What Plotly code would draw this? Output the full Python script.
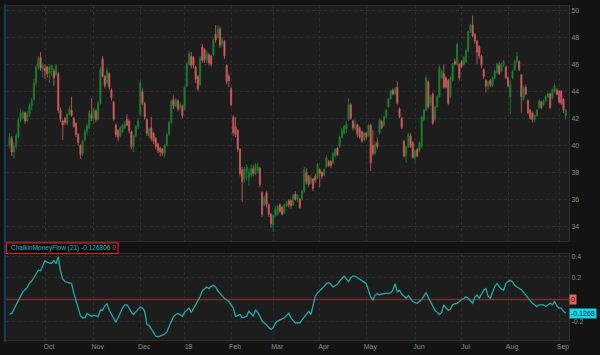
import pandas as pd
import plotly.graph_objects as go

# ---------------- data ----------------
holidays = ["2017-11-23", "2017-12-25", "2018-01-01", "2018-01-15", "2018-02-19",
            "2018-03-30", "2018-05-28", "2018-07-04", "2018-09-03"]
dates = [d for d in pd.bdate_range("2017-09-08", "2018-09-07")
         if d.strftime("%Y-%m-%d") not in holidays]

open_ = [
    40.0, 40.5, 39.5, 39.9, 40.6, 41.9, 42.0, 42.4, 41.8, 42.3, 42.9, 43.4, 44.6, 45.8, 46.5, 45.6, 45.7, 45.8, 45.3, 45.6,
    45.5, 45.2, 45.3, 42.6, 41.8, 42.0, 41.6, 42.3, 42.6, 42.0, 41.6, 40.8, 40.0, 39.4, 40.4, 41.0, 41.3, 42.3, 42.0, 42.5,
    41.9,
    43.1, 46.4, 45.1, 44.6, 45.3, 44.1, 43.2, 41.5, 41.1, 40.7, 41.0, 41.3, 41.9, 41.8, 41.0, 39.9, 40.7, 41.4, 42.3, 44.0,
    43.1, 41.9, 40.7, 41.3, 40.9, 40.5, 40.1, 39.8, 39.7, 39.4, 40.0, 40.8, 41.7, 43.4, 42.9, 43.3, 42.8, 42.9, 42.7, 44.4,
    46.0, 46.6, 46.5,
    45.8, 45.1, 44.5, 47.3, 47.1, 46.3, 46.7, 46.6, 46.7, 48.2, 48.0, 48.6, 47.5, 47.7, 45.9, 45.1, 44.2, 42.1, 41.4, 41.1,
    39.7, 38.2, 37.5, 38.0, 37.6, 37.8, 38.3, 37.9, 38.1, 38.3, 36.5, 35.6, 36.5, 35.6, 34.9, 34.1, 34.8, 34.9, 35.6, 35.4,
    35.0, 35.5,
    35.9, 35.9, 35.6, 36.4, 36.0, 36.0, 36.0, 36.6, 38.0, 37.7, 37.2, 37.5, 37.7, 37.6, 38.2, 38.0, 37.8, 38.4, 38.8, 38.8,
    38.7, 39.2, 39.8, 39.9, 40.6, 40.9, 41.2, 41.9, 43.0, 41.8, 41.2, 41.5, 41.3, 41.0, 40.4, 40.9, 40.7, 41.5, 40.0, 39.4,
    40.2,
    40.9, 41.75, 41.5, 42.1, 42.85, 43.45, 44.06, 43.82, 44.3, 42.7, 42.0, 40.3, 39.2, 39.9, 40.7, 40.2, 39.1, 39.7, 39.6, 39.9,
    41.9, 42.6, 44.7, 43.1, 43.8, 41.9, 42.85, 43.6, 45.0, 45.3, 45.0, 44.8, 43.6, 44.8, 46.2, 46.0, 46.0, 46.2, 46.0, 46.2,
    47.0, 48.4, 48.9,
    48.2, 47.7, 47.3, 46.6, 45.6, 44.8, 44.4, 44.8, 44.4, 45.0, 45.4, 45.9, 45.5, 46.0, 45.8, 45.0, 43.6, 45.0, 45.6, 46.2,
    46.2, 45.2, 43.4, 44.3, 43.3, 42.6, 42.4, 41.9, 42.2, 42.8, 43.2, 43.0, 43.3, 43.6, 43.8, 43.5, 44.0, 44.1, 44.0, 44.0,
    43.4, 42.2,
]
close = [
    40.6, 39.5, 39.9, 40.7, 41.9, 42.4, 42.4, 41.8, 42.3, 42.9, 43.3, 44.6, 45.8, 46.4, 45.7, 45.9, 45.5, 45.3, 45.8, 45.9,
    45.0, 45.9, 42.6, 41.9, 41.5, 41.7, 42.3, 42.7, 42.2, 41.4, 40.8, 40.2, 39.3, 40.3, 41.0, 41.4, 42.4, 42.0, 42.6, 41.9,
    43.1,
    45.6, 45.1, 44.4, 45.5, 44.3, 43.5, 41.9, 40.8, 40.6, 41.3, 41.5, 41.6, 41.5, 41.1, 39.9, 40.7, 41.4, 41.8, 44.6, 43.1,
    42.1, 40.9, 41.2, 40.5, 40.3, 39.9, 39.6, 39.5, 39.4, 40.0, 40.8, 41.7, 43.3, 42.9, 43.3, 42.7, 43.0, 42.2, 44.3, 46.0,
    46.8, 45.9, 45.9,
    44.9, 44.2, 46.4, 46.3, 46.3, 46.8, 46.1, 46.0, 47.8, 47.8, 48.6, 47.4, 47.8, 46.6, 44.7, 44.8, 43.0, 40.9, 40.8, 39.7,
    37.9, 37.3, 38.2, 38.4, 38.0, 38.3, 37.9, 38.6, 38.4, 37.1, 34.9, 36.1, 35.6, 34.9, 34.2, 34.8, 35.3, 35.5, 35.1, 34.9,
    35.6, 35.7,
    35.6, 35.5, 36.3, 36.0, 36.3, 35.4, 36.6, 38.2, 37.3, 37.1, 37.6, 36.8, 37.4, 38.6, 37.9, 37.7, 38.2, 39.1, 38.5, 38.5,
    39.4, 39.7, 39.3, 40.6, 41.1, 41.4, 41.6, 43.0, 42.0, 41.3, 41.6, 40.8, 40.6, 40.3, 40.9, 40.6, 41.5, 38.7, 39.4, 40.1,
    39.9,
    41.9, 41.3, 42.1, 42.6, 43.45, 44.05, 43.82, 44.18, 43.1, 42.1, 41.3, 39.2, 39.9, 40.8, 39.9, 39.1, 39.6, 39.2, 40.2, 42.1,
    42.6, 45.0, 42.85, 43.6, 41.64, 42.85, 43.6, 45.76, 45.5, 44.3, 44.3, 43.1, 45.0, 46.0, 46.0, 47.45, 45.0, 45.8, 46.5, 47.0,
    48.4, 48.9, 48.1,
    47.7, 46.9, 46.6, 45.9, 45.1, 44.4, 44.7, 44.5, 45.0, 45.5, 46.0, 45.3, 46.0, 46.2, 45.0, 44.4, 44.5, 45.5, 46.2, 46.6,
    45.6, 43.6, 44.3, 43.8, 42.4, 42.0, 41.9, 42.2, 42.6, 43.3, 42.8, 43.3, 43.6, 43.8, 42.8, 44.1, 44.4, 43.8, 43.2, 43.1,
    42.6, 42.6,
]
high = [
    40.9, 40.7, 40.2, 40.9, 42.1, 42.7, 42.6, 42.5, 42.5, 43.1, 43.5, 44.9, 46.0, 46.6, 46.9, 46.1, 46.0, 45.9, 45.9, 46.0,
    45.7, 46.0, 45.4, 42.8, 41.9, 42.1, 42.4, 42.9, 43.6, 42.1, 41.7, 40.9, 40.1, 40.4, 41.2, 41.6, 42.6, 43.5, 42.8, 42.7,
    43.3,
    45.8, 46.6, 45.2, 45.7, 45.4, 44.2, 43.3, 41.6, 41.2, 41.4, 41.6, 41.8, 42.3, 41.9, 41.1, 40.8, 41.5, 42.0, 44.8, 44.2,
    43.2, 42.0, 41.3, 42.1, 41.0, 40.6, 40.2, 39.9, 39.8, 40.1, 40.9, 41.8, 43.4, 43.7, 43.5, 43.4, 43.2, 43.0, 44.4, 46.1,
    47.0, 46.9, 46.6,
    45.9, 45.2, 46.6, 47.5, 47.2, 47.0, 46.8, 46.7, 47.9, 48.9, 48.9, 48.8, 48.0, 47.8, 46.0, 45.3, 44.3, 42.2, 42.1, 41.2,
    39.8, 38.4, 38.4, 38.6, 38.3, 38.6, 38.5, 38.7, 38.7, 38.4, 36.6, 36.3, 36.6, 35.7, 35.0, 34.9, 35.5, 35.6, 35.7, 35.5,
    35.7, 35.9,
    36.0, 36.0, 36.4, 36.6, 36.4, 36.1, 36.7, 38.4, 38.3, 37.8, 37.8, 37.6, 37.9, 38.7, 38.3, 38.1, 38.3, 39.3, 38.9, 38.9,
    39.5, 39.8, 39.9, 40.7, 41.3, 41.5, 41.8, 43.5, 43.1, 41.9, 41.9, 41.6, 41.4, 41.1, 41.0, 41.0, 41.6, 41.6, 41.1, 40.3,
    40.6,
    42.0, 41.9, 42.2, 42.7, 43.5, 44.1, 44.2, 44.3, 44.75, 42.8, 42.1, 40.4, 40.0, 40.9, 40.9, 40.3, 39.7, 39.8, 40.3, 42.2,
    42.7, 45.2, 44.8, 43.7, 43.9, 42.9, 43.7, 45.9, 45.6, 46.0, 45.1, 44.9, 45.1, 46.1, 46.4, 47.6, 46.1, 46.3, 46.6, 47.1,
    48.5, 49.0, 49.6,
    48.3, 47.8, 47.4, 46.7, 45.7, 44.9, 44.8, 44.9, 45.1, 45.6, 46.1, 46.2, 46.1, 46.3, 45.9, 45.1, 44.8, 45.6, 46.3, 46.9,
    46.3, 45.3, 44.4, 44.5, 43.4, 42.7, 42.5, 42.3, 42.7, 43.4, 43.3, 43.4, 43.7, 43.9, 43.9, 44.2, 44.6, 44.2, 44.1, 44.1,
    43.5, 42.7,
]
low = [
    39.8, 39.2, 39.0, 39.7, 40.5, 41.7, 41.9, 41.6, 41.7, 42.1, 42.6, 43.3, 44.4, 45.6, 45.5, 45.0, 44.9, 45.0, 44.6, 45.1,
    44.4, 45.1, 42.4, 41.7, 40.4, 41.5, 41.5, 42.2, 42.1, 41.3, 40.6, 40.0, 39.0, 39.2, 40.3, 40.8, 41.2, 41.8, 41.6, 41.7,
    41.8,
    43.0, 45.0, 44.2, 44.5, 44.1, 43.3, 41.8, 40.6, 40.3, 40.6, 40.9, 41.2, 41.4, 40.9, 39.7, 39.5, 40.6, 41.2, 42.2, 43.0,
    41.9, 40.7, 40.5, 40.3, 40.1, 39.7, 39.4, 39.2, 39.2, 39.1, 39.9, 40.7, 41.6, 42.7, 42.8, 42.5, 42.6, 42.0, 42.6, 44.3,
    45.9, 45.7, 45.7,
    44.6, 44.0, 44.4, 46.1, 46.1, 46.1, 45.9, 45.8, 46.6, 47.6, 47.9, 47.2, 47.3, 46.4, 44.5, 44.3, 42.9, 40.7, 40.6, 39.5,
    37.7, 35.8, 37.2, 37.4, 37.0, 37.6, 37.7, 37.8, 37.9, 36.9, 34.7, 35.5, 35.4, 34.7, 33.9, 33.6, 34.7, 34.8, 35.0, 34.8,
    34.9, 35.4,
    35.4, 35.3, 35.5, 35.9, 35.8, 35.3, 35.9, 36.5, 37.1, 36.9, 37.1, 36.6, 37.2, 37.5, 36.9, 37.5, 37.7, 38.3, 38.4, 38.3,
    38.6, 39.1, 39.2, 39.8, 40.5, 40.8, 40.9, 41.8, 41.9, 41.1, 41.1, 40.6, 40.5, 40.2, 40.3, 40.4, 40.6, 38.1, 39.2, 39.3,
    39.7,
    40.8, 41.2, 41.4, 42.0, 42.8, 43.4, 43.7, 43.7, 43.0, 42.0, 41.2, 39.1, 38.7, 39.8, 39.8, 39.0, 38.7, 39.1, 39.5, 39.8,
    41.8, 42.5, 42.7, 42.9, 41.5, 41.8, 42.8, 43.5, 44.9, 44.2, 44.2, 43.0, 43.5, 44.7, 45.9, 45.9, 44.8, 45.7, 45.9, 46.1,
    46.9, 48.3, 48.0,
    47.5, 46.0, 46.4, 45.7, 44.9, 43.9, 44.1, 44.3, 44.3, 44.9, 45.3, 45.2, 45.4, 45.8, 44.9, 44.3, 42.3, 44.9, 45.5, 46.1,
    45.5, 42.4, 43.3, 43.7, 42.3, 41.9, 41.7, 41.7, 42.1, 42.7, 42.7, 42.9, 43.2, 43.5, 42.7, 43.4, 43.9, 43.7, 43.1, 43.0,
    42.4, 41.9,
]
cmf = [
    -0.136, -0.13, -0.09, -0.05, -0.005, 0.02, 0.07, 0.09, 0.11, 0.15, 0.17, 0.2, 0.235, 0.27, 0.265, 0.31, 0.358, 0.345, 0.335, 0.334,
    0.358, 0.33, 0.395, 0.26, 0.19, 0.165, 0.158, 0.15, 0.146, 0.06, -0.01, -0.08, -0.15, -0.17, -0.17, -0.13, -0.14, -0.157, -0.145, -0.15,
    -0.16, -0.1, -0.1, -0.06, -0.04, -0.1, -0.14, -0.17, -0.21, -0.17, -0.12, -0.08, -0.05, -0.05, -0.08, -0.12, -0.14, -0.11, -0.09, -0.07,
    -0.08, -0.11, -0.233, -0.24, -0.27, -0.31, -0.34, -0.345, -0.34, -0.33, -0.32, -0.3, -0.25, -0.2, -0.16, -0.14, -0.13, -0.14, -0.157, -0.12,
    -0.1, -0.08, -0.12, -0.09, -0.05, -0.01, 0.025, 0.08, 0.1, 0.115, 0.1, 0.12, 0.13, 0.115, 0.08, 0.055, 0.03, 0.01, -0.005, -0.02,
    -0.05, -0.08, -0.157, -0.145, -0.14, -0.17, -0.16, -0.157, -0.11, -0.13, -0.157, -0.096, -0.12, -0.157, -0.2, -0.218, -0.233, -0.26, -0.278, -0.263,
    -0.22, -0.2, -0.19, -0.185, -0.17, -0.15, -0.127, -0.17, -0.2, -0.218, -0.215, -0.218, -0.19, -0.16, -0.14, -0.11, -0.14, -0.066, 0.03, 0.06,
    0.085, 0.1, 0.12, 0.146, 0.155, 0.14, 0.115, 0.125, 0.14, 0.17, 0.19, 0.216, 0.19, 0.165, 0.2, 0.216, 0.216, 0.2, 0.185, 0.17,
    0.16, 0.146, 0.07, 0.02, -0.005, 0.04, 0.055, 0.04, 0.05, 0.055, 0.055, 0.055, 0.06, 0.085, 0.146, 0.07, 0.085, 0.05, 0.03, 0.01,
    0.035, 0.01, -0.02, -0.03, -0.036, -0.02, 0.0, 0.03, 0.064, 0.02, -0.02, -0.066, -0.1, -0.12, -0.14, -0.12, -0.05, -0.08, -0.1, -0.09,
    -0.05, -0.04, -0.036, -0.02, 0.0, 0.01, 0.025, 0.01, -0.01, -0.036, 0.02, 0.04, 0.01, 0.05, 0.085, 0.1, 0.03, 0.01, 0.07, 0.12,
    0.146, 0.115, 0.095, 0.085, 0.146, 0.165, 0.176, 0.161, 0.13, 0.115, 0.1, 0.09, 0.065, 0.04, 0.02, -0.005, -0.036, -0.05, -0.066, -0.05,
    -0.05, -0.05, -0.066, -0.05, -0.036, -0.05, -0.02, -0.06, -0.08, -0.08, -0.11, -0.1268,
]

price_ticks = [34, 36, 38, 40, 42, 44, 46, 48, 50]
cmf_ticks = [-0.2, 0.2, 0.4]
cmf_last = -0.126806

# ---------------- derived axis positions ----------------
idx = list(range(len(dates)))
month_idx, month_lbl = [], []
for i in range(1, len(dates)):
    if dates[i].month != dates[i - 1].month:
        month_idx.append(i)
        month_lbl.append("18" if dates[i].month == 1 else dates[i].strftime("%b"))

FONT = "Liberation Sans, Arial, sans-serif"
TICK_COL = "#8c8c8c"
GRID_COL = "#2e2e2e"
BORDER = "#2f2f2f"

fig = go.Figure()
fig.add_trace(go.Candlestick(
    x=idx, open=open_, high=high, low=low, close=close,
    xaxis="x", yaxis="y",
    increasing=dict(line=dict(color="#1d7a2e", width=0.9), fillcolor="#1f8733"),
    decreasing=dict(line=dict(color="#c25656", width=0.9), fillcolor="#f07070"),
    whiskerwidth=0, showlegend=False, hoverinfo="skip",
))
fig.add_trace(go.Scatter(
    x=idx, y=cmf, xaxis="x2", yaxis="y2", mode="lines",
    line=dict(color="#27a9ab", width=1.3), showlegend=False, hoverinfo="skip",
))

xr = [-1.6, 252.5]
common_x = dict(range=xr, tickvals=month_idx, showgrid=True, gridcolor=GRID_COL,
                griddash="dot", gridwidth=1, zeroline=False, showline=True,
                linecolor=BORDER, mirror=True, ticks="", fixedrange=True)

fig.update_layout(
    width=600, height=355,
    margin=dict(l=6, r=31, t=4, b=11),
    paper_bgcolor="#131313", plot_bgcolor="#1d1d1d",
    font=dict(family=FONT, size=7, color=TICK_COL),
    showlegend=False,
    xaxis=dict(domain=[0, 1], anchor="y", showticklabels=False,
               rangeslider=dict(visible=False), **common_x),
    yaxis=dict(domain=[0.297, 1], anchor="x", side="right", range=[32.93, 50.31],
               tickvals=price_ticks, showgrid=True, gridcolor=GRID_COL, griddash="dot",
               zeroline=False, showline=True, linecolor=BORDER, mirror=True, ticks="",
               tickfont=dict(size=7, color=TICK_COL)),
    xaxis2=dict(domain=[0, 1], anchor="y2", matches="x", ticktext=month_lbl,
                showticklabels=True, ticklabelshift=4,
                tickfont=dict(size=7, color=TICK_COL), **common_x),
    yaxis2=dict(domain=[0, 0.256], anchor="x2", side="right", range=[-0.375, 0.415],
                tickvals=cmf_ticks, ticktext=["-0.2", "0.2", "0.4"],
                showgrid=True, gridcolor=GRID_COL, griddash="dot",
                zeroline=False, showline=True, linecolor=BORDER, mirror=True, ticks="",
                tickfont=dict(size=7, color=TICK_COL)),
)

# zero line of the oscillator
fig.add_shape(type="line", xref="x2 domain", yref="y2", x0=0, x1=1, y0=0, y1=0,
              line=dict(color="#7d2b2b", width=1.5), layer="below")
# left blue edge
fig.add_shape(type="line", xref="paper", yref="paper", x0=-0.002, x1=-0.002, y0=-0.005, y1=1.005,
              line=dict(color="#123f55", width=2))
# study header box
fig.add_shape(type="rect", xref="paper", yref="paper", x0=0.001, x1=0.199, y0=0.259, y1=0.291,
              line=dict(color="#e01f1f", width=1.2), fillcolor="#0d0d0d")
fig.add_annotation(xref="paper", yref="paper", x=0.005, y=0.275, xanchor="left", yanchor="middle",
                   showarrow=False,
                   text="ChaikinMoneyFlow (21)&nbsp;%.6f&nbsp;<span style='color:#d9534f'>0</span>" % cmf_last,
                   font=dict(family=FONT, size=6.5, color="#22b8c4"))
# right-side value bubbles
fig.add_annotation(xref="paper", yref="y2", x=1.0, y=0, xanchor="left", yanchor="middle",
                   showarrow=False, text="0", bgcolor="#e0605a", borderpad=1,
                   font=dict(family=FONT, size=7, color="#3a0d0d"))
fig.add_annotation(xref="paper", yref="y2", x=1.0, y=cmf_last, xanchor="left", yanchor="middle",
                   showarrow=False, text="%.4f" % cmf_last, bgcolor="#19d4e6", borderpad=1,
                   font=dict(family=FONT, size=7, color="#06323a"))

fig.write_html("out.html")
